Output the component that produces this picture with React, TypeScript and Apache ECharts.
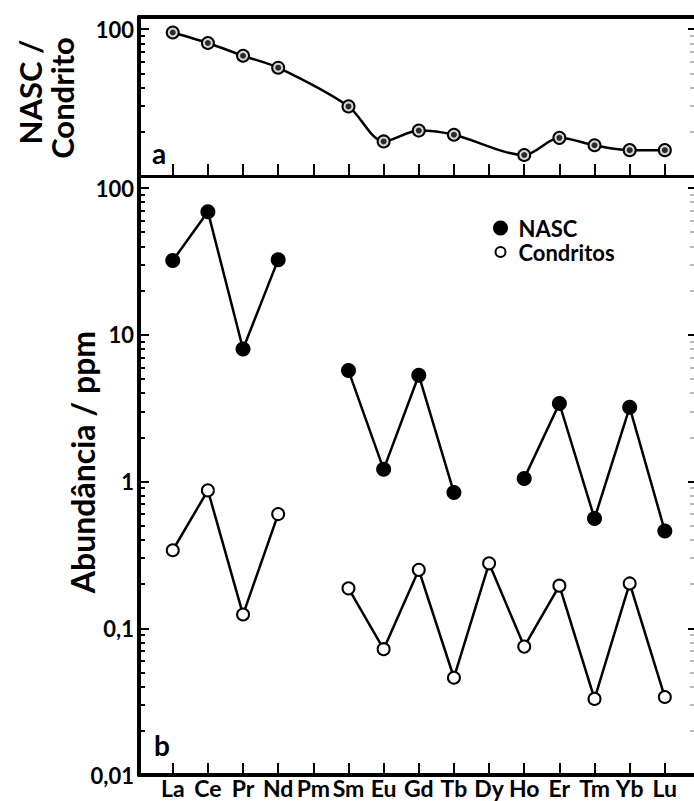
import React, { useEffect, useRef } from 'react';
import * as echarts from 'echarts';

const elements = ['La', 'Ce', 'Pr', 'Nd', 'Pm', 'Sm', 'Eu', 'Gd', 'Tb', 'Dy', 'Ho', 'Er', 'Tm', 'Yb', 'Lu'];
const elementPositions = [1, 2, 3, 4, 5, 6, 7, 8, 9, 10, 11, 12, 13, 14, 15];
const nascPpm = [32, 69, 8.0, 32.5, null, 5.7, 1.21, 5.3, 0.84, null, 1.05, 3.4, 0.56, 3.2, 0.46];
const condritosPpm = [0.34, 0.87, 0.124, 0.6, null, 0.187, 0.072, 0.25, 0.046, 0.277, 0.075, 0.195, 0.033, 0.202, 0.034];
const nascCondritoRatio = [95, 80.6, 66, 54.7, null, 29.8, 17.2, 20.4, 19.1, null, 13.9, 18.2, 16.2, 15.0, 15.0];

const majorTicksA = [100];
const minorTicksA = [20, 30, 40, 50, 60, 70, 80, 90];
const majorTicksB = [0.01, 0.1, 1, 10, 100];
const minorTicksB = [
  0.02, 0.03, 0.04, 0.05, 0.06, 0.07, 0.08, 0.09,
  0.2, 0.3, 0.4, 0.5, 0.6, 0.7, 0.8, 0.9,
  2, 3, 4, 5, 6, 7, 8, 9,
  20, 30, 40, 50, 60, 70, 80, 90,
];

const FONT = 'Lato, "Open Sans", sans-serif';

const fmtY = (v: number) => {
  if (v >= 1) return String(Math.round(v));
  return String(Number(v.toPrecision(3))).replace('.', ',');
};

function yAxisDef(gridIndex: number, min: number, max: number, position: string, ticks: number[], len: number, color: string, showLine: boolean, labels: number[] | null) {
  return {
    type: 'log',
    logBase: 10,
    gridIndex,
    min,
    max,
    position,
    offset: 0,
    axisLine: { show: showLine, onZero: false, lineStyle: { color: '#000', width: 4 } },
    axisTick: { show: true, inside: true, length: len, customValues: ticks, lineStyle: { color, width: 2 } },
    axisLabel: labels
      ? { show: true, customValues: labels, formatter: fmtY, fontFamily: FONT, fontWeight: 'bold', fontSize: 22, color: '#000', margin: 5 }
      : { show: false },
    splitLine: { show: false },
    minorTick: { show: false },
    minorSplitLine: { show: false },
  };
}

const X_MIN = 0.04;
const X_MAX = 15.83;

export default function App() {
  const ref = useRef<HTMLDivElement>(null);
  useEffect(() => {
    if (!ref.current) return;
    const chart = echarts.init(ref.current, null, { renderer: 'svg' });

    const ratioData = nascCondritoRatio
      .map((v, i) => [elementPositions[i], v])
      .filter((p) => p[1] !== null);
    const nascData = nascPpm.map((v, i) => [elementPositions[i], v === null ? '-' : v]);
    const condData = condritosPpm.map((v, i) => [elementPositions[i], v === null ? '-' : v]);

    const topMax = Math.pow(10, 1 + 159 / 146.75);
    const botMax = Math.pow(10, -2 + 599 / 146.75);

    chart.setOption({
      animation: false,
      backgroundColor: '#fff',
      grid: [
        { left: 139, top: 17, width: 557, height: 159 },
        { left: 139, top: 176, width: 557, height: 599 },
      ],
      xAxis: [
        {
          type: 'value', gridIndex: 0, min: X_MIN, max: X_MAX, position: 'bottom',
          axisLine: { show: true, onZero: false, lineStyle: { color: '#000', width: 3 } },
          axisTick: { show: true, inside: true, length: 12, customValues: elementPositions, lineStyle: { color: '#000', width: 2 } },
          axisLabel: { show: false },
          splitLine: { show: false },
        },
        {
          type: 'value', gridIndex: 0, min: X_MIN, max: X_MAX, position: 'top',
          axisLine: { show: true, onZero: false, lineStyle: { color: '#000', width: 4 } },
          axisTick: { show: false },
          axisLabel: { show: false },
          splitLine: { show: false },
        },
        {
          type: 'value', gridIndex: 1, min: X_MIN, max: X_MAX, position: 'bottom',
          axisLine: { show: true, onZero: false, lineStyle: { color: '#000', width: 4 } },
          axisTick: { show: true, inside: true, length: 12, customValues: elementPositions, lineStyle: { color: '#000', width: 2 } },
          axisLabel: {
            show: true, customValues: elementPositions,
            formatter: (v: number) => elements[Math.round(v) - 1],
            fontFamily: FONT, fontWeight: 'bold', fontSize: 23, lineHeight: 22, color: '#000', margin: 2,
          },
          splitLine: { show: false },
        },
      ],
      yAxis: [
        // top panel (a)
        yAxisDef(0, 10, topMax, 'left', majorTicksA, 10, '#000', true, majorTicksA),
        yAxisDef(0, 10, topMax, 'left', minorTicksA, 6, '#000', false, null),
        yAxisDef(0, 10, topMax, 'right', majorTicksA, 6, '#000', false, null),
        yAxisDef(0, 10, topMax, 'right', minorTicksA, 4, '#bbb', false, null),
        // bottom panel (b)
        yAxisDef(1, 0.01, botMax, 'left', majorTicksB, 10, '#000', true, majorTicksB),
        yAxisDef(1, 0.01, botMax, 'left', minorTicksB, 6, '#000', false, null),
        yAxisDef(1, 0.01, botMax, 'right', majorTicksB, 6, '#000', false, null),
        yAxisDef(1, 0.01, botMax, 'right', minorTicksB, 4, '#bbb', false, null),
      ],
      legend: {
        orient: 'vertical',
        left: 492,
        top: 217,
        padding: 0,
        itemWidth: 26,
        itemHeight: 15,
        itemGap: 2,
        data: [
          { name: 'NASC', icon: 'circle' },
          { name: 'Condritos', icon: 'path://M0,0M15,15M7.5,2.5A5,5,0,1,1,7.5,12.5A5,5,0,1,1,7.5,2.5Z' },
        ],
        textStyle: { fontFamily: FONT, fontWeight: 'bold', fontSize: 22, color: '#000', lineHeight: 22 },
      },
      series: [
        {
          name: 'NASC / Condrito',
          type: 'line',
          xAxisIndex: 0,
          yAxisIndex: 0,
          data: ratioData,
          smooth: 0.3,
          symbol: 'circle',
          symbolSize: 12,
          lineStyle: { color: '#000', width: 2.5 },
          itemStyle: { color: '#d8d8d8', borderColor: '#000', borderWidth: 2 },
          z: 3,
        },
        {
          name: 'NASC / Condrito centro',
          type: 'scatter',
          xAxisIndex: 0,
          yAxisIndex: 0,
          data: ratioData,
          symbol: 'circle',
          symbolSize: 6,
          itemStyle: { color: '#000' },
          z: 4,
        },
        {
          name: 'NASC',
          type: 'line',
          xAxisIndex: 2,
          yAxisIndex: 4,
          data: nascData,
          connectNulls: false,
          symbol: 'circle',
          symbolSize: 15,
          lineStyle: { color: '#000', width: 2.5 },
          itemStyle: { color: '#000', borderColor: '#000', borderWidth: 0 },
          z: 3,
        },
        {
          name: 'Condritos',
          type: 'line',
          xAxisIndex: 2,
          yAxisIndex: 4,
          data: condData,
          connectNulls: false,
          symbol: 'circle',
          symbolSize: 12,
          lineStyle: { color: '#000', width: 2.5 },
          itemStyle: { color: '#fff', borderColor: '#000', borderWidth: 2 },
          z: 3,
        },
      ],
      graphic: [
        { type: 'text', x: 30, y: 92, rotation: Math.PI / 2, style: { text: 'NASC /', font: `bold 31px ${FONT}`, fill: '#000', align: 'center', verticalAlign: 'middle' } },
        { type: 'text', x: 62, y: 98, rotation: Math.PI / 2, style: { text: 'Condrito', font: `bold 31px ${FONT}`, fill: '#000', align: 'center', verticalAlign: 'middle' } },
        { type: 'text', x: 82, y: 462, rotation: Math.PI / 2, style: { text: 'Abundância / ppm', font: `bold 32px ${FONT}`, fill: '#000', align: 'center', verticalAlign: 'middle' } },
        { type: 'text', x: 159, y: 153, style: { text: 'a', font: `bold 28px ${FONT}`, fill: '#000', align: 'center', verticalAlign: 'middle' } },
        { type: 'text', x: 162, y: 745, style: { text: 'b', font: `bold 28px ${FONT}`, fill: '#000', align: 'center', verticalAlign: 'middle' } },
      ],
    });
    return () => chart.dispose();
  }, []);
  return <div ref={ref} style={{ position: 'absolute', left: 0, top: 0, width: 694, height: 801 }} />;
}
